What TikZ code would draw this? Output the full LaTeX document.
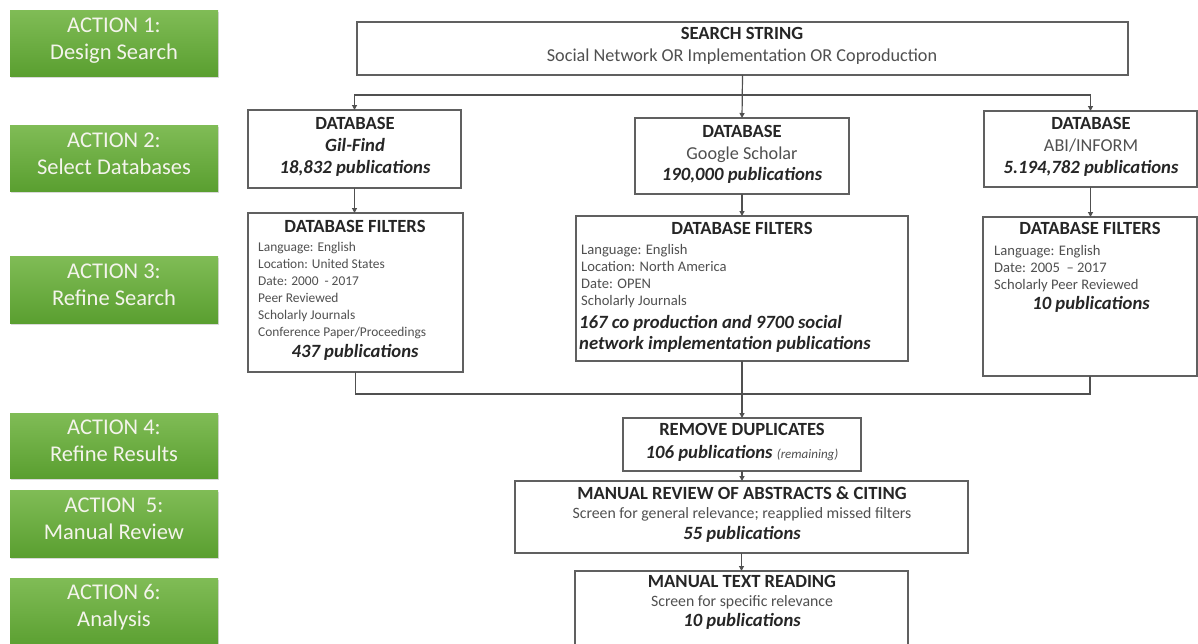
\documentclass[tikz,border=0pt]{standalone}
\usepackage{fontspec}
\setmainfont{Carlito}
\usetikzlibrary{arrows.meta,shadows}
\definecolor{tdark}{HTML}{262626}
\definecolor{treg}{HTML}{505050}
\definecolor{boxline}{HTML}{606060}
\definecolor{linec}{HTML}{505050}
\definecolor{gtop}{HTML}{80BC56}
\definecolor{gbot}{HTML}{5A9F30}
\definecolor{gtext}{HTML}{F4F4EC}
\tikzset{
  box/.style={rectangle, draw=boxline, line width=1.3pt, fill=white, inner sep=0pt, outer sep=0pt},
  act/.style={rectangle, inner sep=0pt, outer sep=0pt, top color=gtop, bottom color=gbot, draw=none,
    drop shadow={opacity=0.3, shadow xshift=1pt, shadow yshift=-2pt}},
  actxt/.style={inner sep=0pt, text=gtext, font=\fontsize{22.5}{24}\selectfont, text height=.7em, text depth=.2em},
  ttl/.style={inner sep=0pt, text=tdark, font=\fontsize{18.6}{20}\selectfont\bfseries, text height=.7em, text depth=.2em},
  big/.style={inner sep=0pt, text=treg, font=\fontsize{18.2}{20}\selectfont, text height=.7em, text depth=.2em},
  bigbi/.style={inner sep=0pt, text=tdark, font=\fontsize{18.7}{20}\selectfont\bfseries\itshape, text height=.7em, text depth=.2em},
  sml/.style={inner sep=0pt, text=treg, font=\fontsize{14.6}{16}\selectfont, text height=.7em, text depth=.2em},
  smlg/.style={sml, font=\fontsize{13.4}{16}\selectfont},
  mid/.style={inner sep=0pt, text=treg, font=\fontsize{15.8}{17}\selectfont, text height=.7em, text depth=.2em},
  conn/.style={draw=linec, line width=1.2pt},
  arr/.style={conn, -{Triangle[length=5pt,width=5pt]}},
}
\begin{document}
\begin{tikzpicture}[x=1pt,y=-1pt]
\useasboundingbox (0,0) rectangle (1198,643);

% ---- green action boxes ----
\node[act, minimum width=208pt, minimum height=66pt] (a1) at (114,43) {};
\node[act, minimum width=208pt, minimum height=66pt] (a2) at (114,158) {};
\node[act, minimum width=208pt, minimum height=67pt] (a3) at (114,289.5) {};
\node[act, minimum width=208pt, minimum height=65pt] (a4) at (114,445.5) {};
\node[act, minimum width=208pt, minimum height=67pt] (a5) at (114,523.5) {};
\node[act, minimum width=208pt, minimum height=70pt] (a6) at (114,613) {};

\node[actxt] (a1t1) at (114,30) {ACTION 1:};
\node[actxt] (a1t2) at (114,57) {Design Search};
\node[actxt] (a2t1) at (114,145) {ACTION 2:};
\node[actxt] (a2t2) at (114,172) {Select Databases};
\node[actxt] (a3t1) at (114,276) {ACTION 3:};
\node[actxt] (a3t2) at (114,303) {Refine Search};
\node[actxt] (a4t1) at (114,432) {ACTION 4:};
\node[actxt] (a4t2) at (114,459) {Refine Results};
\node[actxt] (a5t1) at (114,510) {ACTION\ \ 5:};
\node[actxt] (a5t2) at (114,537) {Manual Review};
\node[actxt] (a6t1) at (114,597) {ACTION 6:};
\node[actxt] (a6t2) at (114,624) {Analysis};

% ---- flow boxes ----
\node[box, minimum width=771pt, minimum height=53pt] (search) at (742.5,48.5) {};
\node[box, minimum width=213pt, minimum height=78pt] (gil) at (354.5,149) {};
\node[box, minimum width=214pt, minimum height=76pt] (google) at (742,156) {};
\node[box, minimum width=213pt, minimum height=76pt] (abi) at (1090.5,149) {};
\node[box, minimum width=215pt, minimum height=159pt] (gilf) at (355.5,292.5) {};
\node[box, minimum width=332pt, minimum height=145pt] (googf) at (742,288.5) {};
\node[box, minimum width=214pt, minimum height=159pt] (abif) at (1090,296.5) {};
\node[box, minimum width=238pt, minimum height=53pt] (dup) at (742,444.5) {};
\node[box, minimum width=453pt, minimum height=72pt] (rev) at (741.5,517) {};
\node[box, minimum width=333pt, minimum height=76pt] (read) at (741.5,609) {};

% ---- texts ----
\node[ttl] (s1) at (742,37) {SEARCH STRING};
\node[big] (s2) at (742,59) {Social Network OR Implementation OR Coproduction};

\node[ttl] (g1) at (355,127) {DATABASE};
\node[bigbi] (g2) at (355,149) {Gil-Find};
\node[bigbi] (g3) at (355,171) {18,832 publications};

\node[ttl] (o1) at (742,135) {DATABASE};
\node[big] (o2) at (742,157) {Google Scholar};
\node[bigbi] (o3) at (742,178) {190,000 publications};

\node[ttl] (b1) at (1091,127) {DATABASE};
\node[big] (b2) at (1091,149) {ABI/INFORM};
\node[bigbi] (b3) at (1091,171) {5.194,782 publications};

\node[ttl] (gf0) at (355,230) {DATABASE FILTERS};
\node[smlg, anchor=west] (gf1) at (258,249) {Language: English};
\node[smlg, anchor=west] (gf2) at (258,266) {Location: United States};
\node[smlg, anchor=west] (gf3) at (258,283) {Date: 2000\ \ - 2017};
\node[smlg, anchor=west] (gf4) at (258,300) {Peer Reviewed};
\node[smlg, anchor=west] (gf5) at (258,317) {Scholarly Journals};
\node[smlg, anchor=west] (gf6) at (258,334) {Conference Paper/Proceedings};
\node[bigbi] (gf7) at (355,355) {437 publications};

\node[ttl] (of0) at (742,232) {DATABASE FILTERS};
\node[sml, anchor=west] (of1) at (581,252) {Language: English};
\node[sml, anchor=west] (of2) at (581,269) {Location: North America};
\node[sml, anchor=west] (of3) at (581,286) {Date: OPEN};
\node[sml, anchor=west] (of4) at (581,303) {Scholarly Journals};
\node[bigbi, anchor=west] (of5) at (579,326) {167 co production and 9700 social};
\node[bigbi, anchor=west] (of6) at (579,347) {network implementation publications};

\node[ttl] (bf0) at (1090,232) {DATABASE FILTERS};
\node[sml, anchor=west] (bf1) at (994,253) {Language: English};
\node[sml, anchor=west] (bf2) at (994,270) {Date: 2005\ \ -- 2017};
\node[sml, anchor=west] (bf3) at (994,287) {Scholarly Peer Reviewed};
\node[bigbi] (bf4) at (1091,307) {10 publications};

\node[ttl] (d1) at (742,433) {REMOVE DUPLICATES};
\node[bigbi] (d2) at (742,456) {106 publications {\fontsize{13}{14}\selectfont\mdseries\color{treg}(remaining)}};

\node[ttl] (r1) at (742,497) {MANUAL REVIEW OF ABSTRACTS \& CITING};
\node[mid] (r2) at (742,516) {Screen for general relevance; reapplied missed filters};
\node[bigbi] (r3) at (742,537) {55 publications};

\node[ttl] (t1) at (742,585) {MANUAL TEXT READING};
\node[mid] (t2) at (742,604) {Screen for specific relevance};
\node[bigbi] (t3) at (742,624) {10 publications};

% ---- connectors ----
\coordinate (split) at (742,95);
\coordinate (merge) at (742,394);
\draw[arr] (search.south) -- (google.north);
\draw[arr] (split) -| (gil.north);
\draw[arr] (split) -| (abi.north);
\draw[arr] (gil.south) -- (gil.south |- gilf.north);
\draw[arr] (google.south) -- (googf.north);
\draw[arr] (abi.south) -- (abi.south |- abif.north);
\draw[conn] (gilf.south) |- (merge);
\draw[conn] (abif.south) |- (merge);
\draw[arr] (googf.south) -- (dup.north);
\draw[arr] (dup.south) -- (dup.south |- rev.north);
\draw[arr] (rev.south) -- (rev.south |- read.north);
\end{tikzpicture}
\end{document}
